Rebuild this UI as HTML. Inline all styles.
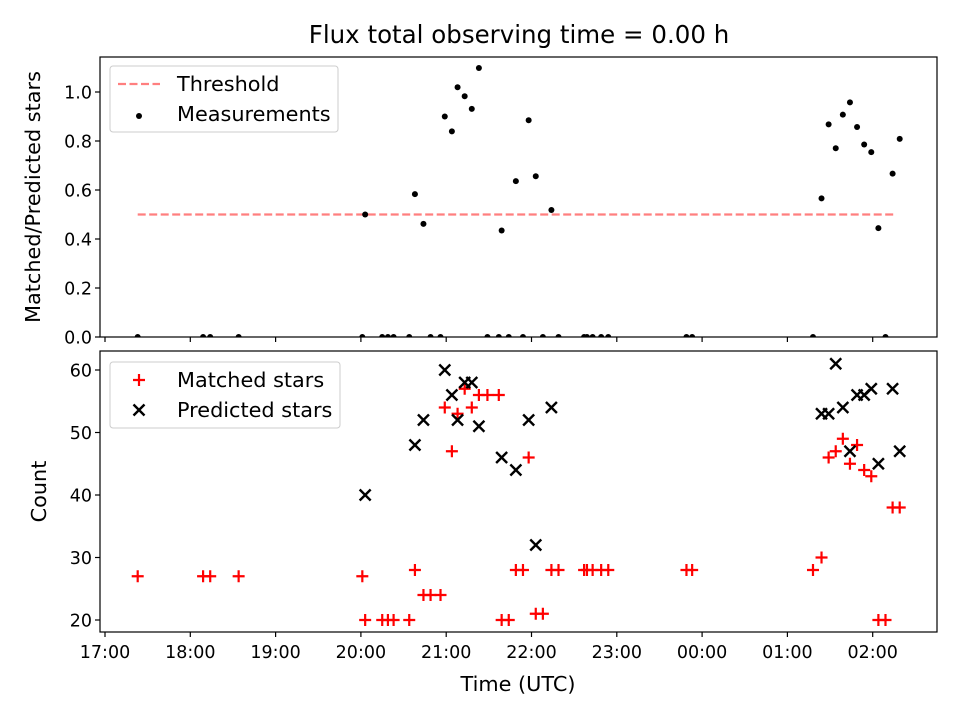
<!DOCTYPE html>
<html><head><meta charset="utf-8"><style>
body{margin:0;background:#fff;}
svg text{font-family:"DejaVu Sans","Liberation Sans",sans-serif;fill:#000;}
</style></head><body>
<svg id="chart" width="960" height="720" xmlns="http://www.w3.org/2000/svg">
<rect width="960" height="720" fill="#fff"/>
<text x="519" y="43" font-size="24.5" text-anchor="middle">Flux total observing time = 0.00 h</text>
</svg>
<script>
const times = ["17:23","18:09","18:14","18:34","20:01","20:03","20:15","20:19","20:23","20:34","20:38","20:44","20:49","20:56","20:59","21:04","21:08","21:13","21:18","21:23","21:29","21:37","21:39","21:44","21:49","21:54","21:58","22:03","22:08","22:14","22:19","22:37","22:39","22:43","22:49","22:54","23:49","23:53","01:18","01:24","01:29","01:34","01:39","01:44","01:49","01:54","01:59","02:04","02:09","02:14","02:19"];
const matched = [27,27,27,27,27,20,20,20,20,20,28,24,24,24,54,47,53,57,54,56,56,56,20,20,28,28,46,21,21,28,28,28,28,28,28,28,28,28,28,30,46,47,49,45,48,44,43,20,20,38,38];
const predicted = [0,0,0,0,0,40,0,0,0,0,48,52,0,0,60,56,52,58,58,51,0,0,46,0,44,0,52,32,0,54,0,0,0,0,0,0,0,0,0,53,53,61,54,47,56,56,57,45,0,57,47];
const threshold = 0.5;
const ratioTicks = [0,0.2,0.4,0.6,0.8,1.0];
const ratioTickLabels = ["0.0","0.2","0.4","0.6","0.8","1.0"];
const countTicks = [20,30,40,50,60];
const timeTickLabels = ["17:00","18:00","19:00","20:00","21:00","22:00","23:00","00:00","01:00","02:00"];

const NS="http://www.w3.org/2000/svg";
const svg=document.getElementById('chart');
function mk(tag,attrs,parent){const e=document.createElementNS(NS,tag);for(const k in attrs)e.setAttribute(k,attrs[k]);(parent||svg).appendChild(e);return e;}
function toMin(s){let [h,m]=s.split(':').map(Number);if(h<17)h+=24;return (h-17)*60+m;}
const X0=100,X1=937;
const TF=17.5, LF=20.8;
function xs(min){return 105+min/60*85.3;}
const T={top:57,bot:337}, B={top:351,bot:632};
function yr(v){return 337-245*v;}
function yc(v){return 620-(v-20)*6.25;}

const defs=mk('defs',{});
let cp=mk('clipPath',{id:'cpT'},defs);mk('rect',{x:X0,y:T.top,width:X1-X0,height:T.bot-T.top},cp);
cp=mk('clipPath',{id:'cpB'},defs);mk('rect',{x:X0,y:B.top,width:X1-X0,height:B.bot-B.top},cp);

timeTickLabels.forEach((lab,i)=>{
  const x=xs(i*60);
  let t=mk('line',{x1:x,x2:x,y1:T.bot,y2:T.bot+5,stroke:'#000','stroke-width':1.2});
  
  t=mk('line',{x1:x,x2:x,y1:B.bot,y2:B.bot+5,stroke:'#000','stroke-width':1.2});
  
  const tx=mk('text',{x:x,y:B.bot+26,'font-size':TF,'text-anchor':'middle'});tx.textContent=lab;
  
});
ratioTicks.forEach((v,i)=>{
  const y=yr(v);
  const l=mk('line',{x1:X0-5,x2:X0,y1:y,y2:y,stroke:'#000','stroke-width':1.2});
  
  const tx=mk('text',{x:X0-8,y:y+6.5,'font-size':TF,'text-anchor':'end'});tx.textContent=ratioTickLabels[i];
  
});
countTicks.forEach(v=>{
  const y=yc(v);
  const l=mk('line',{x1:X0-5,x2:X0,y1:y,y2:y,stroke:'#000','stroke-width':1.2});
  
  const tx=mk('text',{x:X0-8,y:y+6.5,'font-size':TF,'text-anchor':'end'});tx.textContent=String(v);
  
});

const gT=mk('g',{'clip-path':'url(#cpT)'});

const mins=times.map(toMin);
const thr=mk('line',{x1:xs(Math.min(...mins)),x2:xs(Math.max(...mins))-3,y1:yr(threshold),y2:yr(threshold),stroke:'#ff7f7f','stroke-width':2.2,'stroke-dasharray':'8,3.5'},gT);

times.forEach((t,i)=>{
  const r=predicted[i]>0?matched[i]/predicted[i]:0;
  const c=mk('circle',{cx:xs(mins[i]),cy:yr(r),r:3,fill:'#000'},gT);
  
});
const gB=mk('g',{'clip-path':'url(#cpB)'});

function plus(x,y,g,col){return mk('path',{d:`M${x-6},${y}H${x+6}M${x},${y-6}V${y+6}`,stroke:col,'stroke-width':2.2,fill:'none'},g);}
function cross(x,y,g){return mk('path',{d:`M${x-5.5},${y-5.5}L${x+5.5},${y+5.5}M${x-5.5},${y+5.5}L${x+5.5},${y-5.5}`,stroke:'#000','stroke-width':2.4,fill:'none'},g);}
times.forEach((t,i)=>{
  const p=plus(xs(mins[i]),yc(matched[i]),gB,'#ff0000');
  
});
times.forEach((t,i)=>{
  const c=cross(xs(mins[i]),yc(predicted[i]),gB);
  
});

let f=mk('rect',{x:X0,y:T.top,width:X1-X0,height:T.bot-T.top,fill:'none',stroke:'#000','stroke-width':1.2});

f=mk('rect',{x:X0,y:B.top,width:X1-X0,height:B.bot-B.top,fill:'none',stroke:'#000','stroke-width':1.2});


let a=mk('text',{x:0,y:0,'font-size':LF,'text-anchor':'middle',transform:`translate(40,${(T.top+T.bot)/2}) rotate(-90)`});a.textContent='Matched/Predicted stars';

a=mk('text',{x:0,y:0,'font-size':LF,'text-anchor':'middle',transform:`translate(46,${(B.top+B.bot)/2}) rotate(-90)`});a.textContent='Count';

a=mk('text',{x:518,y:691,'font-size':LF,'text-anchor':'middle'});a.textContent='Time (UTC)';


let lg=mk('g',{});
mk('rect',{x:110,y:66,width:228,height:66,rx:3,fill:'#fff','fill-opacity':0.8,stroke:'#ccc'},lg);
mk('line',{x1:118,x2:160,y1:84,y2:84,stroke:'#ff7f7f','stroke-width':2.2,'stroke-dasharray':'8,3.5'},lg);
let lt=mk('text',{x:177,y:91,'font-size':LF},lg);lt.textContent='Threshold';
mk('circle',{cx:139,cy:116,r:3,fill:'#000'},lg);
lt=mk('text',{x:177,y:121,'font-size':LF},lg);lt.textContent='Measurements';
lg=mk('g',{});
mk('rect',{x:110,y:362,width:230,height:66,rx:3,fill:'#fff','fill-opacity':0.8,stroke:'#ccc'},lg);
plus(139,380,lg,'#ff0000');
lt=mk('text',{x:177,y:387,'font-size':LF},lg);lt.textContent='Matched stars';
cross(139,410,lg);
lt=mk('text',{x:177,y:417,'font-size':LF},lg);lt.textContent='Predicted stars';
</script>
</body></html>
